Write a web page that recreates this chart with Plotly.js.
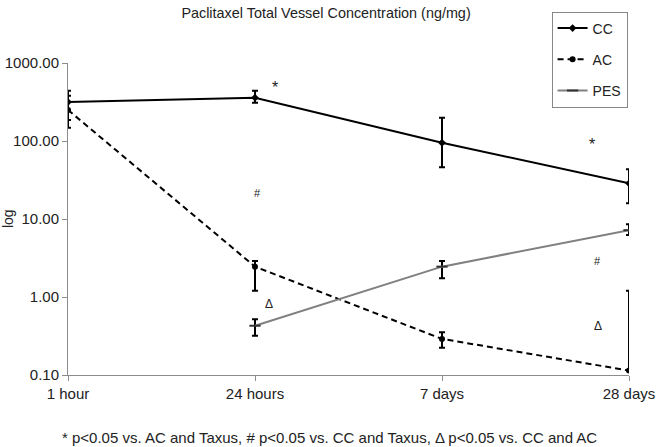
<!DOCTYPE html>
<html>
<head>
<meta charset="utf-8">
<script src="https://cdn.plot.ly/plotly-3.0.1.min.js"></script>
<style>html,body{margin:0;padding:0;background:#fff;}#chart{width:656px;height:447px;}</style>
</head>
<body>
<div id="chart"></div>
<script>
const categories = ['1 hour', '24 hours', '7 days', '28 days'];
const ccValues = [316, 359, 95, 28.7];
const ccErrPlus = [125, 82, 104, 14.7];
const ccErrMinus = [130, 49, 49, 12.8];
const acValues = [250, 2.45, 0.29, 0.114];
const acErrPlus = [131, 0.45, 0.062, 1.09];
const acErrMinus = [102, 1.25, 0.066, 0];
const pesValues = [null, 0.428, 2.45, 7.2];
const pesErrPlus = [null, 0.09, 0.45, 1.35];
const pesErrMinus = [null, 0.11, 0.71, 0.96];
const yTickValues = [0.1, 1, 10, 100, 1000];

const FONT = 'Arial, "Liberation Sans", sans-serif';
const errStyle = {thickness: 2, width: 3, color: '#000'};

const traces = [
  {
    name: 'CC', x: categories, y: ccValues, type: 'scatter', mode: 'lines+markers',
    line: {color: '#000', width: 2},
    marker: {symbol: 'diamond', size: 6, color: '#000'},
    error_y: Object.assign({type: 'data', symmetric: false, array: ccErrPlus, arrayminus: ccErrMinus}, errStyle),
    legendgroup: 'g1'
  },
  {
    name: 'AC', x: categories, y: acValues, type: 'scatter', mode: 'lines+markers',
    line: {color: '#000', width: 2, dash: '6px,4px'},
    marker: {symbol: 'circle', size: 6, color: '#000'},
    error_y: Object.assign({type: 'data', symmetric: false, array: acErrPlus, arrayminus: acErrMinus}, errStyle),
    legendgroup: 'g2'
  },
  {
    name: 'PES', x: categories, y: pesValues, type: 'scatter', mode: 'lines+markers',
    line: {color: '#808080', width: 2},
    marker: {symbol: 'line-ew', size: 8, line: {color: '#333', width: 2}},
    error_y: Object.assign({type: 'data', symmetric: false, array: pesErrPlus, arrayminus: pesErrMinus}, errStyle),
    legendgroup: 'g3'
  }
];

const layout = {
  width: 656, height: 447,
  paper_bgcolor: '#fff', plot_bgcolor: '#fff',
  font: {family: FONT, size: 15, color: '#222'},
  margin: {l: 68, r: 27, t: 63, b: 72, autoexpand: false},
  title: {text: 'Paclitaxel Total Vessel Concentration (ng/mg)', font: {size: 14.4, color: '#222'},
          x: 0.497, xref: 'container', xanchor: 'center', y: 0.971, yref: 'container', yanchor: 'middle'},
  showlegend: true,
  legend: {x: 0.862, y: 1.165, xanchor: 'left', yanchor: 'top', bgcolor: '#fff',
           bordercolor: '#888', borderwidth: 1, font: {size: 14, color: '#222'},
           traceorder: 'grouped', tracegroupgap: 10, itemwidth: 30},
  xaxis: {
    type: 'category', range: [0, 3], showgrid: false, zeroline: false,
    showline: true, linecolor: '#8c8c8c', linewidth: 1,
    ticks: 'outside', ticklen: 5, tickcolor: '#8c8c8c',
    tickfont: {size: 15, color: '#222'}
  },
  yaxis: {
    type: 'log', range: [-1, 3], showgrid: false, zeroline: false,
    showline: true, linecolor: '#8c8c8c', linewidth: 1,
    ticks: 'outside', ticklen: 5, tickcolor: '#8c8c8c',
    tickvals: yTickValues, tickformat: '.2f',
    tickfont: {size: 15, color: '#222'}
  },
  annotations: [
    {text: 'log', textangle: -90, xref: 'paper', yref: 'paper', x: -0.107, y: 0.503, xanchor: 'center', yanchor: 'middle', showarrow: false, font: {size: 14, color: '#222'}},
    {text: '* p<0.05 vs. AC and Taxus, # p<0.05 vs. CC and Taxus, \u0394 p<0.05 vs. CC and AC', xref: 'paper', yref: 'paper',
     x: 0.467, y: -0.199, xanchor: 'center', yanchor: 'middle', showarrow: false, font: {size: 15, color: '#222'}},
    {text: '*', x: 1.107, y: 2.68, xref: 'x', yref: 'y', showarrow: false, font: {size: 16, color: '#222'}},
    {text: '#', x: 1.016, y: 1.333, xref: 'x', yref: 'y', showarrow: false, font: {size: 11, color: '#222'}},
    {text: '\u0394', x: 1.075, y: -0.09, xref: 'x', yref: 'y', showarrow: false, font: {size: 12, color: '#222'}},
    {text: '*', x: 2.80, y: 1.949, xref: 'x', yref: 'y', showarrow: false, font: {size: 16, color: '#222'}},
    {text: '#', x: 2.83, y: 0.462, xref: 'x', yref: 'y', showarrow: false, font: {size: 11, color: '#222'}},
    {text: '\u0394', x: 2.834, y: -0.372, xref: 'x', yref: 'y', showarrow: false, font: {size: 12, color: '#222'}}
  ]
};

Plotly.newPlot('chart', traces, layout, {displayModeBar: false, staticPlot: true});
</script>
</body>
</html>
